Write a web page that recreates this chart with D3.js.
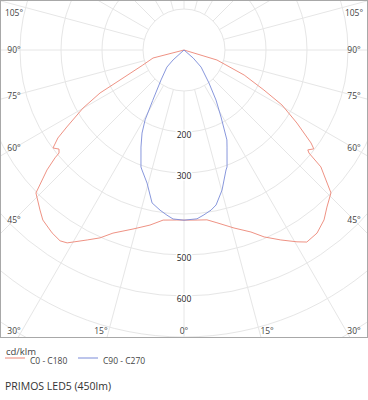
<!DOCTYPE html>
<html>
<head>
<meta charset="utf-8">
<script src="https://cdn.jsdelivr.net/npm/d3@7"></script>
<style>
	body { margin: 0; background: #fff; }
	svg text { font-family: 'Open Sans', sans-serif; }
</style>
</head>
<body>
<div id="chart"></div>
<script>
// polar intensity, [gamma deg, cd/klm]
var c0 = [
	[0,415],[4.4,416],[7.7,418],[10.8,429],[15.7,451],[20.2,473],[23.2,496],[27,520],
	[30.5,543],[32.6,556],[36,552],[39.5,537],[42.3,518],[45.8,500],[49.5,439],[50.5,395],
	[51.1,388],[52.7,398],[53.8,384],[57.1,328],[60.7,274],[63.4,218],[67.4,159],[73.1,84],
	[76,0],[90,0]
]
var c180 = [
	[0,415],[2.4,415],[7,418],[11,435],[15.9,454],[21.2,479],[24.1,502],[27,520],
	[31.2,550],[33,555],[35.8,550],[39.7,539],[42,525],[46,502],[48.8,444],[50.1,410],
	[50.5,395],[51.6,389],[53.2,399],[55.1,375],[56.7,342],[60.1,284],[62.9,230],[64.5,181],
	[69.9,107],[75.5,78],[77,0],[90,0]
]
var c90 = [
	[0,415],[4.4,413],[6.9,405],[9.6,396],[11.7,386],[15.2,354],[19.3,310],[20.2,304],
	[23.9,259],[25.5,243],[28.9,187],[32.6,145],[37.1,101],[45,59],[48.8,30],[51,0],[90,0]
]
var c270 = [
	[0,415],[3.7,413],[5.9,405],[8.5,395],[11.8,381],[15.5,337],[19.3,310],[20.2,304],
	[23.9,259],[26.8,227],[29.1,195],[31.8,145],[37.5,92],[45,59],[47.7,36],[50,0],[90,0]
]

var ringValues = [100,200,300,400,500,600,700,800,900]
var ringLabels = [200,300,500,600]
var rayAngles = d3.range(0, 360, 15)
var angleLabels = [0,15,30,45,60,75,90,105]

var legendItems = [
	{name: 'C0 - C180', color: '#ec8676'},
	{name: 'C90 - C270', color: '#7a8bd8'}
]
var unitLabel = 'cd/klm'
var title = 'PRIMOS LED5 (450lm)'

makeChart('#chart')

function makeChart(div) {
	var width = 368
	var height = 400
	var frameH = 338
	var cx = 184
	var cy = 50
	var rad = Math.PI / 180

	var svg = d3.select(div).append('svg')
		.attr('width', width)
		.attr('height', height)

	svg.append('clipPath').attr('id', 'frame-clip')
		.append('rect')
		.attr('x', 0).attr('y', 0)
		.attr('width', width).attr('height', frameH)

	var rScale = d3.scaleLinear()
		.domain([0, 100])
		.range([0, 41])

	var plot = svg.append('g')
		.attr('clip-path', 'url(#frame-clip)')
	var inner = plot.append('g')
		.attr('transform', 'translate(' + cx + ',' + cy + ')')

	// grid
	inner.selectAll('circle.ring')
		.data(ringValues)
		.enter().append('circle')
		.attr('class', 'ring')
		.attr('r', function(d) { return rScale(d) })
		.attr('fill', 'none')
		.attr('stroke', '#e6e6e6')

	inner.selectAll('line.ray')
		.data(rayAngles)
		.enter().append('line')
		.attr('class', 'ray')
		.attr('x1', function(d) { return rScale(100) * Math.sin(d * rad) })
		.attr('y1', function(d) { return rScale(100) * Math.cos(d * rad) })
		.attr('x2', function(d) { return rScale(1000) * Math.sin(d * rad) })
		.attr('y2', function(d) { return rScale(1000) * Math.cos(d * rad) })
		.attr('stroke', '#e6e6e6')

	// ring labels
	inner.selectAll('text.ring-label')
		.data(ringLabels)
		.enter().append('text')
		.attr('class', 'ring-label')
		.attr('x', 0)
		.attr('y', function(d) { return rScale(d) + 3 })
		.attr('dy', '0.35em')
		.attr('text-anchor', 'middle')
		.style('font-size', '8.5px')
		.style('fill', '#222')
		.style('stroke', '#fff')
		.style('stroke-width', 3)
		.style('paint-order', 'stroke')
		.text(function(d) { return d })

	// curves, gamma measured from straight down
	var right = d3.lineRadial()
		.angle(function(d) { return Math.PI - d[0] * rad })
		.radius(function(d) { return rScale(d[1]) })
	var left = d3.lineRadial()
		.angle(function(d) { return Math.PI + d[0] * rad })
		.radius(function(d) { return rScale(d[1]) })

	var curves = [
		{data: c0, line: right, color: legendItems[0].color},
		{data: c180, line: left, color: legendItems[0].color},
		{data: c90, line: right, color: legendItems[1].color},
		{data: c270, line: left, color: legendItems[1].color}
	]
	inner.selectAll('path.curve')
		.data(curves)
		.enter().append('path')
		.attr('class', 'curve')
		.attr('d', function(d) { return d.line(d.data) })
		.attr('fill', 'none')
		.attr('stroke', function(d) { return d.color })
		.attr('stroke-width', 0.9)

	// angle labels at the frame edges
	var labelPos = []
	angleLabels.forEach(function(a) {
		var s = Math.sin(a * rad), c = Math.cos(a * rad)
		var t = s > 0.001 ? 170 / s : 1e9
		if (c > 0.001) t = Math.min(t, 310 / c)
		var dx = t * s, dy = t * c
		var y = Math.max(13, Math.min(331, cy + dy))
		labelPos.push({a: a, x: Math.max(14, cx - dx), y: y})
		if (a != 0) labelPos.push({a: a, x: Math.min(354, cx + dx), y: y})
	})
	svg.selectAll('text.angle')
		.data(labelPos)
		.enter().append('text')
		.attr('class', 'angle')
		.attr('x', function(d) { return d.x })
		.attr('y', function(d) { return d.y })
		.attr('dy', '0.35em')
		.attr('text-anchor', 'middle')
		.style('font-size', '8.5px')
		.style('fill', '#444')
		.text(function(d) { return d.a + '°' })

	svg.append('rect')
		.attr('x', 0.5).attr('y', 0.5)
		.attr('width', width - 1).attr('height', frameH - 1)
		.attr('fill', 'none')
		.attr('stroke', '#a8a8a8')

	// legend
	svg.append('text')
		.attr('x', 6).attr('y', 355)
		.style('font-size', '9.5px')
		.style('fill', '#444')
		.text(unitLabel)

	var legend = svg.selectAll('g.legend')
		.data(legendItems)
		.enter().append('g')
		.attr('class', 'legend')
		.attr('transform', function(d, i) { return 'translate(' + (5 + i * 73) + ',358)' })
	legend.append('line')
		.attr('x1', 0).attr('x2', 20)
		.attr('stroke', function(d) { return d.color })
	legend.append('text')
		.attr('x', 25).attr('y', 5.5)
		.style('font-size', '8.5px')
		.style('fill', '#444')
		.text(function(d) { return d.name })

	svg.append('text')
		.attr('x', 5).attr('y', 390)
		.style('font-size', '10.5px')
		.style('fill', '#333')
		.text(title)
}
</script>
</body>
</html>
